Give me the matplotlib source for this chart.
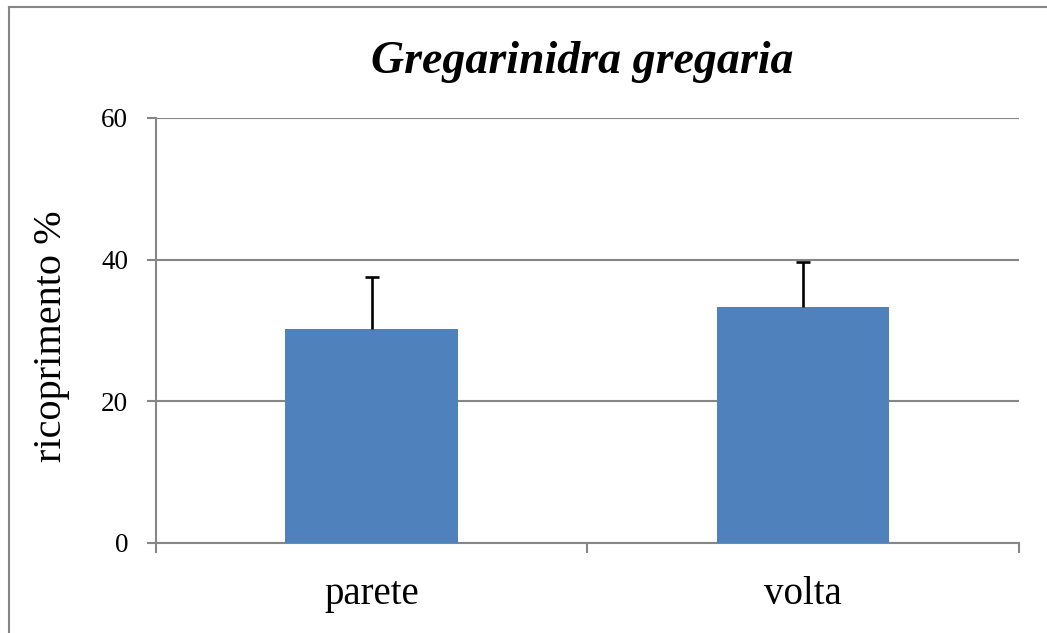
import matplotlib
matplotlib.use('Agg')
import matplotlib.pyplot as plt
from matplotlib.lines import Line2D

# data
categories = ['parete', 'volta']
values = [30.2, 33.3]
err_plus = [7.3, 6.4]
y_ticks = [0, 20, 40, 60]

plt.rcParams['font.family'] = ['Liberation Serif', 'DejaVu Serif']

grey = '#868686'
blue = '#4F81BD'

fig = plt.figure(figsize=(10.47, 6.33), dpi=100)
ax = fig.add_axes([0.149, 0.1422, 0.824, 0.6714])

x = list(range(len(categories)))
ax.bar(x, values, width=0.4, color=blue, zorder=3)

# plus-only error bars, cap only at the top end
tops = [v + e for v, e in zip(values, err_plus)]
ax.vlines(x, values, tops, color='black', linewidth=1.9, zorder=4)
ax.plot(x, tops, ls='none', marker='_', ms=9.5, mew=1.9, color='black', zorder=4)

ax.set_xlim(-0.5, len(categories) - 0.5)
ax.set_ylim(0, 60)
ax.set_yticks(y_ticks)
ax.set_yticklabels([str(t) for t in y_ticks], fontsize=19.5)
ax.yaxis.grid(True, color=grey, linewidth=1.5, zorder=0)
ax.set_axisbelow(True)

ax.set_xticks(x)
ax.set_xticklabels(categories, fontsize=28)
ax.tick_params(axis='x', which='major', length=0, pad=24)
ax.set_xticks([i - 0.5 for i in range(len(categories) + 1)], minor=True)
ax.tick_params(axis='x', which='minor', length=7, width=1.5, color=grey, direction='out')
ax.tick_params(axis='y', length=6.5, width=1.5, color=grey, direction='out', pad=13.5)

for s in ['top', 'right']:
    ax.spines[s].set_visible(False)
for s in ['left', 'bottom']:
    ax.spines[s].set_color(grey)
    ax.spines[s].set_linewidth(1.5)

ax.set_ylabel('ricoprimento %', fontsize=29)
ax.yaxis.set_label_coords(-0.0997, 0.486)
fig.text(0.5565, 1 - 73 / 633, 'Gregarinidra gregaria', ha='center', va='baseline',
         fontsize=33, fontweight='bold', fontstyle='italic')

# chart area border (only top and left are inside the image)
fig.add_artist(Line2D([9 / 1047, 1.0], [1 - 7 / 633, 1 - 7 / 633],
                      transform=fig.transFigure, color=grey, linewidth=1.5))
fig.add_artist(Line2D([9 / 1047, 9 / 1047], [0.0, 1 - 7 / 633],
                      transform=fig.transFigure, color=grey, linewidth=1.5))

fig.savefig('out.png', dpi=100, facecolor='white')
